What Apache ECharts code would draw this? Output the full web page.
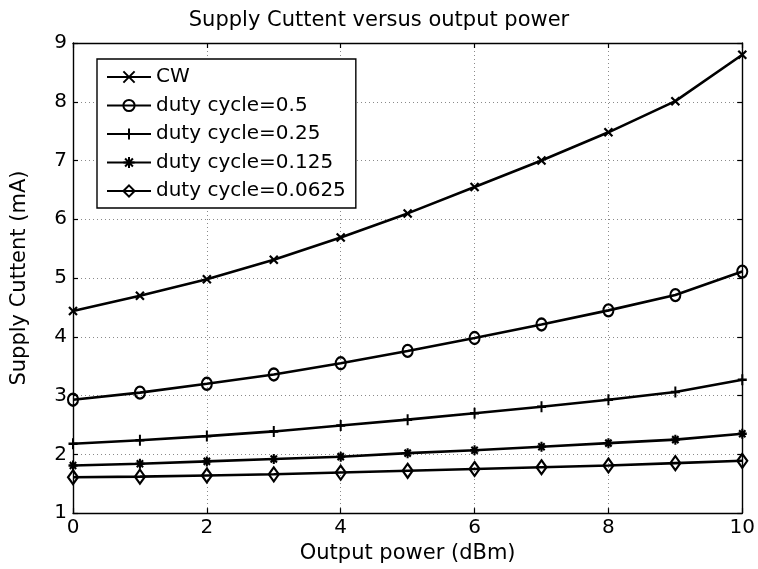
<!DOCTYPE html>
<html>
<head>
<meta charset="utf-8">
<script src="https://cdn.jsdelivr.net/npm/echarts@6/dist/echarts.min.js"></script>
<style>
  html, body { margin: 0; padding: 0; background: #fff; }
  #chart { width: 758px; height: 569px; }
</style>
</head>
<body>
<div id="chart"></div>
<script>
// Output power sweep (dBm)
const powerDbm = [0, 1, 2, 3, 4, 5, 6, 7, 8, 9, 10];

// Supply current (mA) for each drive condition
const currentCW      = [4.44, 4.70, 4.98, 5.31, 5.69, 6.10, 6.55, 7.00, 7.48, 8.01, 8.80];
const currentDuty0500 = [2.93, 3.05, 3.20, 3.36, 3.55, 3.76, 3.98, 4.21, 4.45, 4.71, 5.11];
const currentDuty0250 = [2.18, 2.24, 2.31, 2.39, 2.49, 2.59, 2.70, 2.81, 2.93, 3.06, 3.27];
const currentDuty0125 = [1.81, 1.84, 1.88, 1.92, 1.96, 2.02, 2.07, 2.13, 2.19, 2.25, 2.35];
const currentDuty0625 = [1.61, 1.62, 1.64, 1.66, 1.69, 1.72, 1.75, 1.78, 1.81, 1.85, 1.89];

const seriesNames = ['CW', 'duty cycle=0.5', 'duty cycle=0.25', 'duty cycle=0.125', 'duty cycle=0.0625'];
const seriesValues = [currentCW, currentDuty0500, currentDuty0250, currentDuty0125, currentDuty0625];

// Axis tick values
const xTicks = { min: 0, max: 10, step: 2 };
const yTicks = { min: 1, max: 9, step: 1 };

const FONT = 'DejaVu Sans';

// Marker shapes: x, o, +, *, diamond
const markers = [
  { symbol: 'path://M0,0L10,10M10,0L0,10', size: [8, 8] },
  { symbol: 'path://M10,5A5,5,0,1,1,0,5A5,5,0,1,1,10,5Z', size: [10, 12] },
  { symbol: 'path://M5,0L5,10M0,5L10,5', size: [9, 11] },
  { symbol: 'path://M5,0L5,10M0,5L10,5M1.5,1.5L8.5,8.5M8.5,1.5L1.5,8.5', size: [9, 10] },
  { symbol: 'path://M5,0L10,5L5,10L0,5Z', size: [10, 14] }
];

const chart = echarts.init(document.getElementById('chart'), null, { renderer: 'canvas' });

const series = seriesNames.map((name, i) => ({
  name: name,
  type: 'line',
  xAxisIndex: 0,
  yAxisIndex: 0,
  data: powerDbm.map((x, j) => [x, seriesValues[i][j]]),
  symbol: markers[i].symbol,
  symbolSize: markers[i].size,
  showAllSymbol: true,
  smooth: false,
  lineStyle: { color: '#000', width: 2.6 },
  itemStyle: { color: 'rgba(0,0,0,0)', borderColor: '#000', borderWidth: 2.2 },
  emphasis: { disabled: true },
  animation: false
}));

const gridLine = { show: true, lineStyle: { color: '#8a8a8a', width: 1, type: [1, 3] } };
const boxLine = { show: true, onZero: false, lineStyle: { color: '#000', width: 1.4 } };
const tickIn = { show: true, inside: true, length: 5, lineStyle: { color: '#000', width: 1.2 } };

chart.setOption({
  backgroundColor: '#fff',
  animation: false,
  title: {
    text: 'Supply Cuttent versus output power',
    left: 'center',
    top: 5,
    textStyle: { fontFamily: FONT, fontSize: 21, fontWeight: 'normal', color: '#000' }
  },
  grid: { left: 73, right: 15, top: 43, bottom: 53, containLabel: false },
  legend: {
    orient: 'vertical',
    left: 97,
    top: 59,
    padding: [7, 10, 6, 9],
    itemWidth: 44,
    itemHeight: 14,
    itemGap: 6.5,
    backgroundColor: '#fff',
    borderColor: '#000',
    borderWidth: 1.4,
    borderRadius: 0,
    selectedMode: false,
    textStyle: { fontFamily: FONT, fontSize: 20, color: '#000', lineHeight: 22 },
    data: seriesNames
  },
  xAxis: [
    {
      type: 'value',
      position: 'bottom',
      min: xTicks.min, max: xTicks.max, interval: xTicks.step,
      name: 'Output power (dBm)',
      nameLocation: 'middle',
      nameGap: 28,
      nameTextStyle: { fontFamily: FONT, fontSize: 21, color: '#000' },
      axisLine: boxLine,
      axisTick: tickIn,
      axisLabel: { fontFamily: FONT, fontSize: 20, color: '#000', margin: 5 },
      splitLine: gridLine
    },
    {
      type: 'value',
      position: 'top',
      min: xTicks.min, max: xTicks.max, interval: xTicks.step,
      axisLine: boxLine,
      axisTick: tickIn,
      axisLabel: { show: false },
      splitLine: { show: false }
    }
  ],
  yAxis: [
    {
      type: 'value',
      position: 'left',
      min: yTicks.min, max: yTicks.max, interval: yTicks.step,
      name: 'Supply Cuttent (mA)',
      nameLocation: 'middle',
      nameGap: 43,
      nameTextStyle: { fontFamily: FONT, fontSize: 21, color: '#000' },
      axisLine: boxLine,
      axisTick: tickIn,
      axisLabel: { fontFamily: FONT, fontSize: 20, color: '#000', margin: 6 },
      splitLine: gridLine
    },
    {
      type: 'value',
      position: 'right',
      min: yTicks.min, max: yTicks.max, interval: yTicks.step,
      axisLine: boxLine,
      axisTick: tickIn,
      axisLabel: { show: false },
      splitLine: { show: false }
    }
  ],
  series: series
});
</script>
</body>
</html>
